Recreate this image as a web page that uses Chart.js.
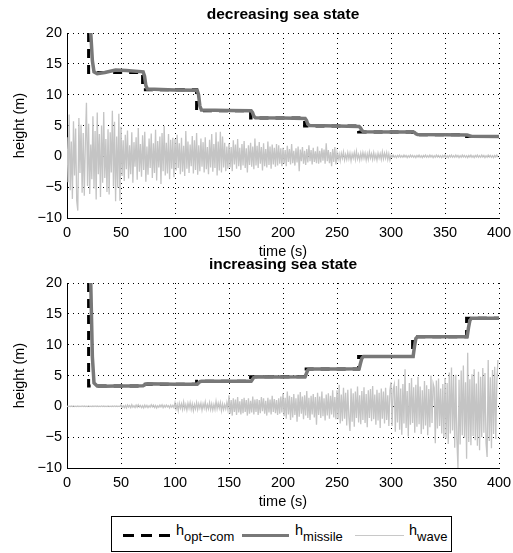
<!DOCTYPE html>
<html>
<head>
<meta charset="utf-8">
<script src="https://cdn.jsdelivr.net/npm/chart.js@4.4.0/dist/chart.umd.min.js"></script>
<style>
  body { margin: 0; background: #fff; width: 513px; height: 553px; position: relative; overflow: hidden;
         font-family: "Liberation Sans", Arial, sans-serif; }
  canvas { position: absolute; left: 0; }
  #top { top: 0; }
  #bottom { top: 250px; }
  #legend { position: absolute; left: 111px; top: 516px; width: 339px; height: 34px; border: 1px solid #000; background: #fff; }
  #legend .s { position: absolute; }
  #legend .t { position: absolute; top: 5px; font-size: 14.5px; color: #000; white-space: nowrap; }
  #legend sub { font-size: 13px; vertical-align: baseline; position: relative; top: 6px; }
</style>
</head>
<body>
<canvas id="top" width="513" height="262"></canvas>
<canvas id="bottom" width="513" height="262"></canvas>
<div id="legend">
  <span class="s" style="left:11px;top:17px;width:47px;height:3px;background:repeating-linear-gradient(to right,#000 0 11px,transparent 11px 18px);"></span>
  <span class="t" style="left:64px">h<sub>opt−com</sub></span>
  <span class="s" style="left:130px;top:17px;width:47px;height:3px;background:#787878;"></span>
  <span class="t" style="left:183px">h<sub>missile</sub></span>
  <span class="s" style="left:243px;top:18px;width:49px;height:1px;background:#c8c8c8;"></span>
  <span class="t" style="left:297px">h<sub>wave</sub></span>
</div>
<script>
// axis ticks
var xTicks = [0, 50, 100, 150, 200, 250, 300, 350, 400];
var yTicks = [-10, -5, 0, 5, 10, 15, 20];

// commanded height (step changes every 50 s)
var optT   = [20, 20, 70, 70, 120, 120, 170, 170, 220, 220, 270, 270, 320, 320, 370, 370, 400];
var optDec = [20, 13.6, 13.6, 10.8, 10.8, 7.4, 7.4, 6.2, 6.2, 4.9, 4.9, 3.95, 3.95, 3.5, 3.5, 3.2, 3.2];
var optInc = [20, 3.3, 3.3, 3.6, 3.6, 4.05, 4.05, 4.8, 4.8, 6.05, 6.05, 8.1, 8.1, 11.3, 11.3, 14.3, 14.3];

// missile height
var missT   = [22, 23.5, 25, 28, 35, 45, 55, 70.5, 71.8, 73, 74.5, 100, 120.5, 121.8, 123, 124.5, 150, 170.5,
               171.8, 173, 174.5, 200, 220.5, 221.8, 223, 224.5, 250, 270.5, 271.8, 273, 274.5, 300, 320.5,
               321.8, 323, 324.5, 350, 370.5, 371.8, 373, 374.5, 400];
var missDec = [20, 15.5, 13.7, 13.4, 13.6, 14.0, 13.9, 13.7, 13.0, 11.5, 10.9, 10.75, 10.7, 10.0, 8.2, 7.5, 7.45, 7.4,
               7.1, 6.5, 6.25, 6.2, 6.15, 5.8, 5.2, 5.0, 4.9, 4.85, 4.6, 4.2, 4.0, 3.95, 3.95,
               3.85, 3.65, 3.55, 3.5, 3.45, 3.4, 3.3, 3.25, 3.2];
var missInc = [20, 8, 3.8, 3.3, 3.25, 3.3, 3.3, 3.35, 3.45, 3.6, 3.65, 3.6, 3.6, 3.8, 4.0, 4.05, 4.05, 4.05,
               4.4, 4.7, 4.8, 4.75, 4.8, 5.4, 5.9, 6.05, 6.05, 6.1, 7.0, 7.8, 8.1, 8.1, 8.1,
               9.8, 11.0, 11.3, 11.3, 11.3, 12.8, 13.9, 14.3, 14.3];

// wave height, one sample per second
var waveStep = 1;
var waveDec = [
  3.1,-4.2,6.8,-5.5,2.4,-6.9,5.7,-3.1,4.5,-7.2,-8.8,6.2,-2.7,5.1,-5.9,3.8,-6.4,2.2,8.7,-4.8,5.3,-6.1,1.9,-3.7,6.5,
  -5.2,4.1,-7.0,7.1,-2.9,3.6,-6.6,5.0,-4.3,7.2,-3.5,2.8,-5.8,4.4,-6.2,3.9,-2.6,7.4,-4.9,5.6,-7.3,3.2,-5.1,6.9,-7.2,
  4.8,-3.2,2.6,-4.0,3.5,-2.1,4.2,-3.6,1.8,-2.9,3.9,-4.3,2.3,-1.7,3.1,-3.8,4.6,-2.5,2.0,-3.3,3.4,-2.2,4.0,-4.1,1.6,
  -3.0,2.9,-1.9,3.7,-3.5,2.1,-2.7,4.3,-3.9,2.5,-1.8,3.2,-4.5,3.8,-2.4,4.9,-3.1,2.2,-2.8,3.6,-3.7,2.7,-2.0,3.0,-3.4,
  2.8,-2.3,3.5,-1.9,2.1,-2.9,3.0,-2.5,1.7,-3.2,4.1,-2.0,2.4,-2.7,1.9,-1.6,3.3,-2.8,2.6,-2.2,3.8,-3.0,1.8,-2.4,2.9,
  -1.7,2.3,-2.6,3.1,-2.1,1.5,-2.9,2.7,-1.8,3.6,-2.5,2.0,-1.9,3.9,-3.1,2.4,-2.3,4.0,-2.6,3.2,-1.8,2.2,-2.4,1.6,-2.0,
  2.1,-1.8,1.5,-2.4,2.6,-1.3,1.9,-2.0,2.8,-1.6,1.4,-2.2,2.0,-1.5,2.5,-1.9,1.3,-2.6,1.8,-1.4,2.2,-1.7,1.6,-2.1,2.9,
  -1.5,1.7,-1.9,2.3,-1.2,1.5,-2.3,2.1,-1.6,1.2,-1.8,2.4,-1.4,1.6,-2.0,1.9,-1.3,1.4,-1.7,2.0,-1.5,1.8,-1.2,1.3,-1.6,
  1.4,-1.2,1.0,-1.6,1.7,-0.9,1.2,-1.3,2.0,-1.1,0.9,-1.5,1.3,-1.0,1.6,-2.4,1.1,-0.8,1.5,-1.2,0.9,-1.4,1.2,-1.0,1.8,
  -0.8,1.0,-1.3,1.4,-0.9,0.8,-1.1,1.6,-1.2,0.9,-1.0,1.3,-0.7,1.1,-1.2,2.1,-0.8,1.0,-1.1,0.7,-1.6,1.2,-0.9,1.5,-1.3,
  0.6,-0.5,0.4,-0.7,0.5,-0.3,0.7,-0.6,0.3,-0.5,0.6,-0.4,0.5,-0.7,0.4,-0.3,0.6,-0.5,0.8,-0.4,0.3,-0.6,0.5,-0.4,0.6,
  -0.3,0.5,-0.6,0.4,-0.5,0.7,-0.3,0.4,-0.5,0.6,-0.4,0.3,-0.6,0.5,-0.3,0.4,-0.5,0.7,-0.4,0.5,-0.3,0.6,-0.5,0.4,-0.6,
  0.15,-0.1,0.2,-0.15,0.1,-0.2,0.15,-0.1,0.2,-0.15,0.1,-0.15,0.2,-0.1,0.15,-0.2,0.1,-0.15,0.2,-0.1,0.15,-0.15,0.1,-0.2,0.15,
  -0.1,0.2,-0.15,0.1,-0.2,0.15,-0.1,0.2,-0.15,0.1,-0.15,0.2,-0.1,0.15,-0.2,0.1,-0.15,0.2,-0.1,0.15,-0.15,0.1,-0.2,0.15,-0.1,
  0.2,-0.15,0.1,-0.2,0.15,-0.1,0.2,-0.15,0.1,-0.15,0.2,-0.1,0.15,-0.2,0.1,-0.15,0.2,-0.1,0.15,-0.15,0.1,-0.2,0.15,-0.1,0.2,
  -0.15,0.1,-0.2,0.15,-0.1,0.2,-0.15,0.1,-0.15,0.2,-0.1,0.15,-0.2,0.1,-0.15,0.2,-0.1,0.15,-0.15,0.1,-0.2,0.15,-0.1,0.2,-0.15
];
var waveInc = [
  0.05,-0.04,0.03,-0.05,0.04,-0.03,0.05,-0.04,0.03,-0.05,0.04,-0.05,0.03,-0.04,0.05,-0.03,0.04,-0.05,0.03,-0.04,0.05,-0.04,0.03,-0.05,0.04,
  -0.03,0.05,-0.04,0.04,-0.05,0.03,-0.04,0.05,-0.03,0.04,-0.05,0.03,-0.04,0.05,-0.04,0.03,-0.05,0.04,-0.03,0.05,-0.04,0.04,-0.05,0.03,-0.04,
  0.2,-0.15,0.1,-0.2,0.15,-0.25,0.2,-0.1,0.15,-0.2,0.25,-0.15,0.1,-0.2,0.2,-0.15,0.25,-0.1,0.15,-0.2,0.1,-0.25,0.2,-0.15,0.15,
  -0.2,0.1,-0.15,0.25,-0.1,0.2,-0.2,0.15,-0.25,0.1,-0.15,0.2,-0.1,0.25,-0.2,0.15,-0.15,0.2,-0.1,0.1,-0.25,0.2,-0.15,0.15,-0.2,
  0.6,-0.4,0.3,-0.7,0.5,-0.3,0.4,-0.5,0.7,-0.4,0.3,-0.6,0.5,-0.3,0.6,-0.5,0.4,-0.7,0.3,-0.4,0.6,-0.5,0.4,-0.3,0.5,
  -0.6,0.4,-0.3,0.7,-0.5,0.3,-0.4,0.6,-0.5,0.4,-0.6,0.3,-0.5,0.8,-0.4,0.5,-0.3,0.6,-0.7,0.4,-0.5,0.3,-0.4,0.6,-0.5,
  1.8,-1.2,1.0,-1.5,1.3,-0.9,1.1,-1.4,1.5,-1.0,0.8,-1.3,1.2,-1.1,1.4,-0.9,1.0,-1.5,1.3,-1.2,0.9,-1.0,1.6,-1.3,1.1,
  -0.9,1.2,-1.4,1.0,-1.1,1.5,-0.8,1.3,-1.2,0.9,-1.5,1.4,-1.0,1.1,-1.3,1.7,-0.9,1.2,-1.1,1.0,-1.4,1.3,-1.2,1.6,-1.0,
  2.1,-1.6,1.4,-2.0,2.4,-1.3,1.7,-2.2,1.5,-1.8,2.0,-1.4,1.3,-2.5,1.9,-1.7,2.3,-1.2,1.6,-2.1,1.8,-1.5,2.5,-1.9,1.4,
  -2.2,1.7,-1.3,2.0,-1.8,1.5,-3.0,2.2,-1.4,1.6,-1.9,2.4,-1.6,1.3,-2.3,1.9,-1.5,2.1,-2.0,1.7,-1.3,2.6,-1.8,1.5,-2.1,
  2.6,-2.1,3.5,-2.8,1.9,-2.4,3.0,-2.0,2.2,-3.1,2.7,-1.8,-4.0,2.9,-2.5,2.1,-3.3,2.4,-1.9,3.2,-2.6,1.8,-2.9,2.5,-2.2,
  3.1,-2.7,2.0,-3.4,2.6,-1.9,2.8,-2.4,3.3,-2.1,1.9,-3.0,2.7,-2.3,2.2,-3.5,2.9,-2.0,2.4,-2.8,3.0,-2.2,1.8,-3.2,2.6,
  3.9,-3.2,2.7,3.5,-4.1,3.3,-2.6,4.4,-3.8,2.9,-4.6,3.6,-2.8,6.0,-3.5,2.5,-4.9,3.8,-3.0,4.6,-2.7,3.1,-4.3,3.5,-3.3,
  4.8,-2.9,3.2,-4.5,2.6,-3.7,4.1,-3.1,3.4,-4.7,2.8,-3.4,5.0,-2.7,3.7,3.0,-6.0,4.2,-3.6,4.5,-3.2,2.9,-4.4,3.6,-5.0,
  4.6,-5.2,3.8,-6.1,5.5,-4.4,6.3,-3.9,4.9,-6.7,5.1,-5.4,-10,4.3,-6.2,5.8,-4.7,6.6,-5.1,3.9,-8.5,8.7,-5.8,4.4,-6.3,
  5.2,-4.8,6.0,-5.5,3.7,-6.4,5.6,-7.1,4.8,-5.0,6.2,-4.3,5.4,-6.0,-8.2,7.5,-5.6,4.7,-6.8,5.9,-4.5,6.4,-5.3,4.1,7.5
];

var FONT = "'Liberation Sans', Arial, sans-serif";

function pts(xs, ys) {
  return ys.map(function (y, i) { return { x: xs[i], y: y }; });
}
function wavePts(ys) {
  return ys.map(function (y, i) { return { x: i * waveStep, y: y }; });
}
function fmt(v) {
  return v < 0 ? '\u2212' + Math.abs(v) : '' + v;
}

function makeChart(id, title, opt, miss, wave) {
  return new Chart(document.getElementById(id).getContext('2d'), {
    type: 'line',
    data: {
      datasets: [
        { label: 'h_opt-com', data: pts(optT, opt), borderColor: '#000', borderWidth: 3,
          borderDash: [9, 7], pointRadius: 0, tension: 0, order: 3 },
        { label: 'h_missile', data: pts(missT, miss), borderColor: '#787878', borderWidth: 3.5,
          pointRadius: 0, tension: 0, order: 2 },
        { label: 'h_wave', data: wavePts(wave), borderColor: '#c4c4c4', borderWidth: 1.3,
          pointRadius: 0, tension: 0, order: 1 }
      ]
    },
    options: {
      responsive: false,
      animation: false,
      events: [],
      layout: { padding: { left: 0, right: 14, top: 0, bottom: 0 } },
      plugins: {
        legend: { display: false },
        tooltip: { enabled: false },
        title: { display: true, text: title, fullSize: false, color: '#000',
                 font: { family: FONT, size: 15.5, weight: 'bold' },
                 padding: { top: 5.7, bottom: 8.7 } }
      },
      scales: {
        x: {
          type: 'linear', min: 0, max: 400,
          afterBuildTicks: function (s) { s.ticks = xTicks.map(function (v) { return { value: v }; }); },
          afterFit: function (s) { s.height = 44; s.paddingLeft = 0; s.paddingRight = 0; },
          grid: { color: '#000', lineWidth: 1, drawTicks: false },
          border: { color: '#000', width: 1, dash: [1, 4] },
          ticks: { color: '#000', padding: 6, maxRotation: 0, font: { family: FONT, size: 14.5 }, callback: fmt },
          title: { display: true, text: 'time (s)', color: '#000', font: { family: FONT, size: 14.5 },
                   padding: { top: 0, bottom: 1.3 } }
        },
        y: {
          type: 'linear', min: -10, max: 20,
          afterBuildTicks: function (s) { s.ticks = yTicks.map(function (v) { return { value: v }; }); },
          afterFit: function (s) { s.width = 67; s.paddingTop = 0; s.paddingBottom = 0; },
          grid: { color: '#000', lineWidth: 1, drawTicks: false },
          border: { color: '#000', width: 1, dash: [1, 4] },
          ticks: { color: '#000', padding: 5, font: { family: FONT, size: 14.5 }, callback: fmt },
          title: { display: true, text: 'height (m)', color: '#000', font: { family: FONT, size: 14.5 },
                   padding: { top: 11, bottom: 0 } }
        }
      }
    }
  });
}

makeChart('top', 'decreasing sea state', optDec, missDec, waveDec);
makeChart('bottom', 'increasing sea state', optInc, missInc, waveInc);
</script>
</body>
</html>
